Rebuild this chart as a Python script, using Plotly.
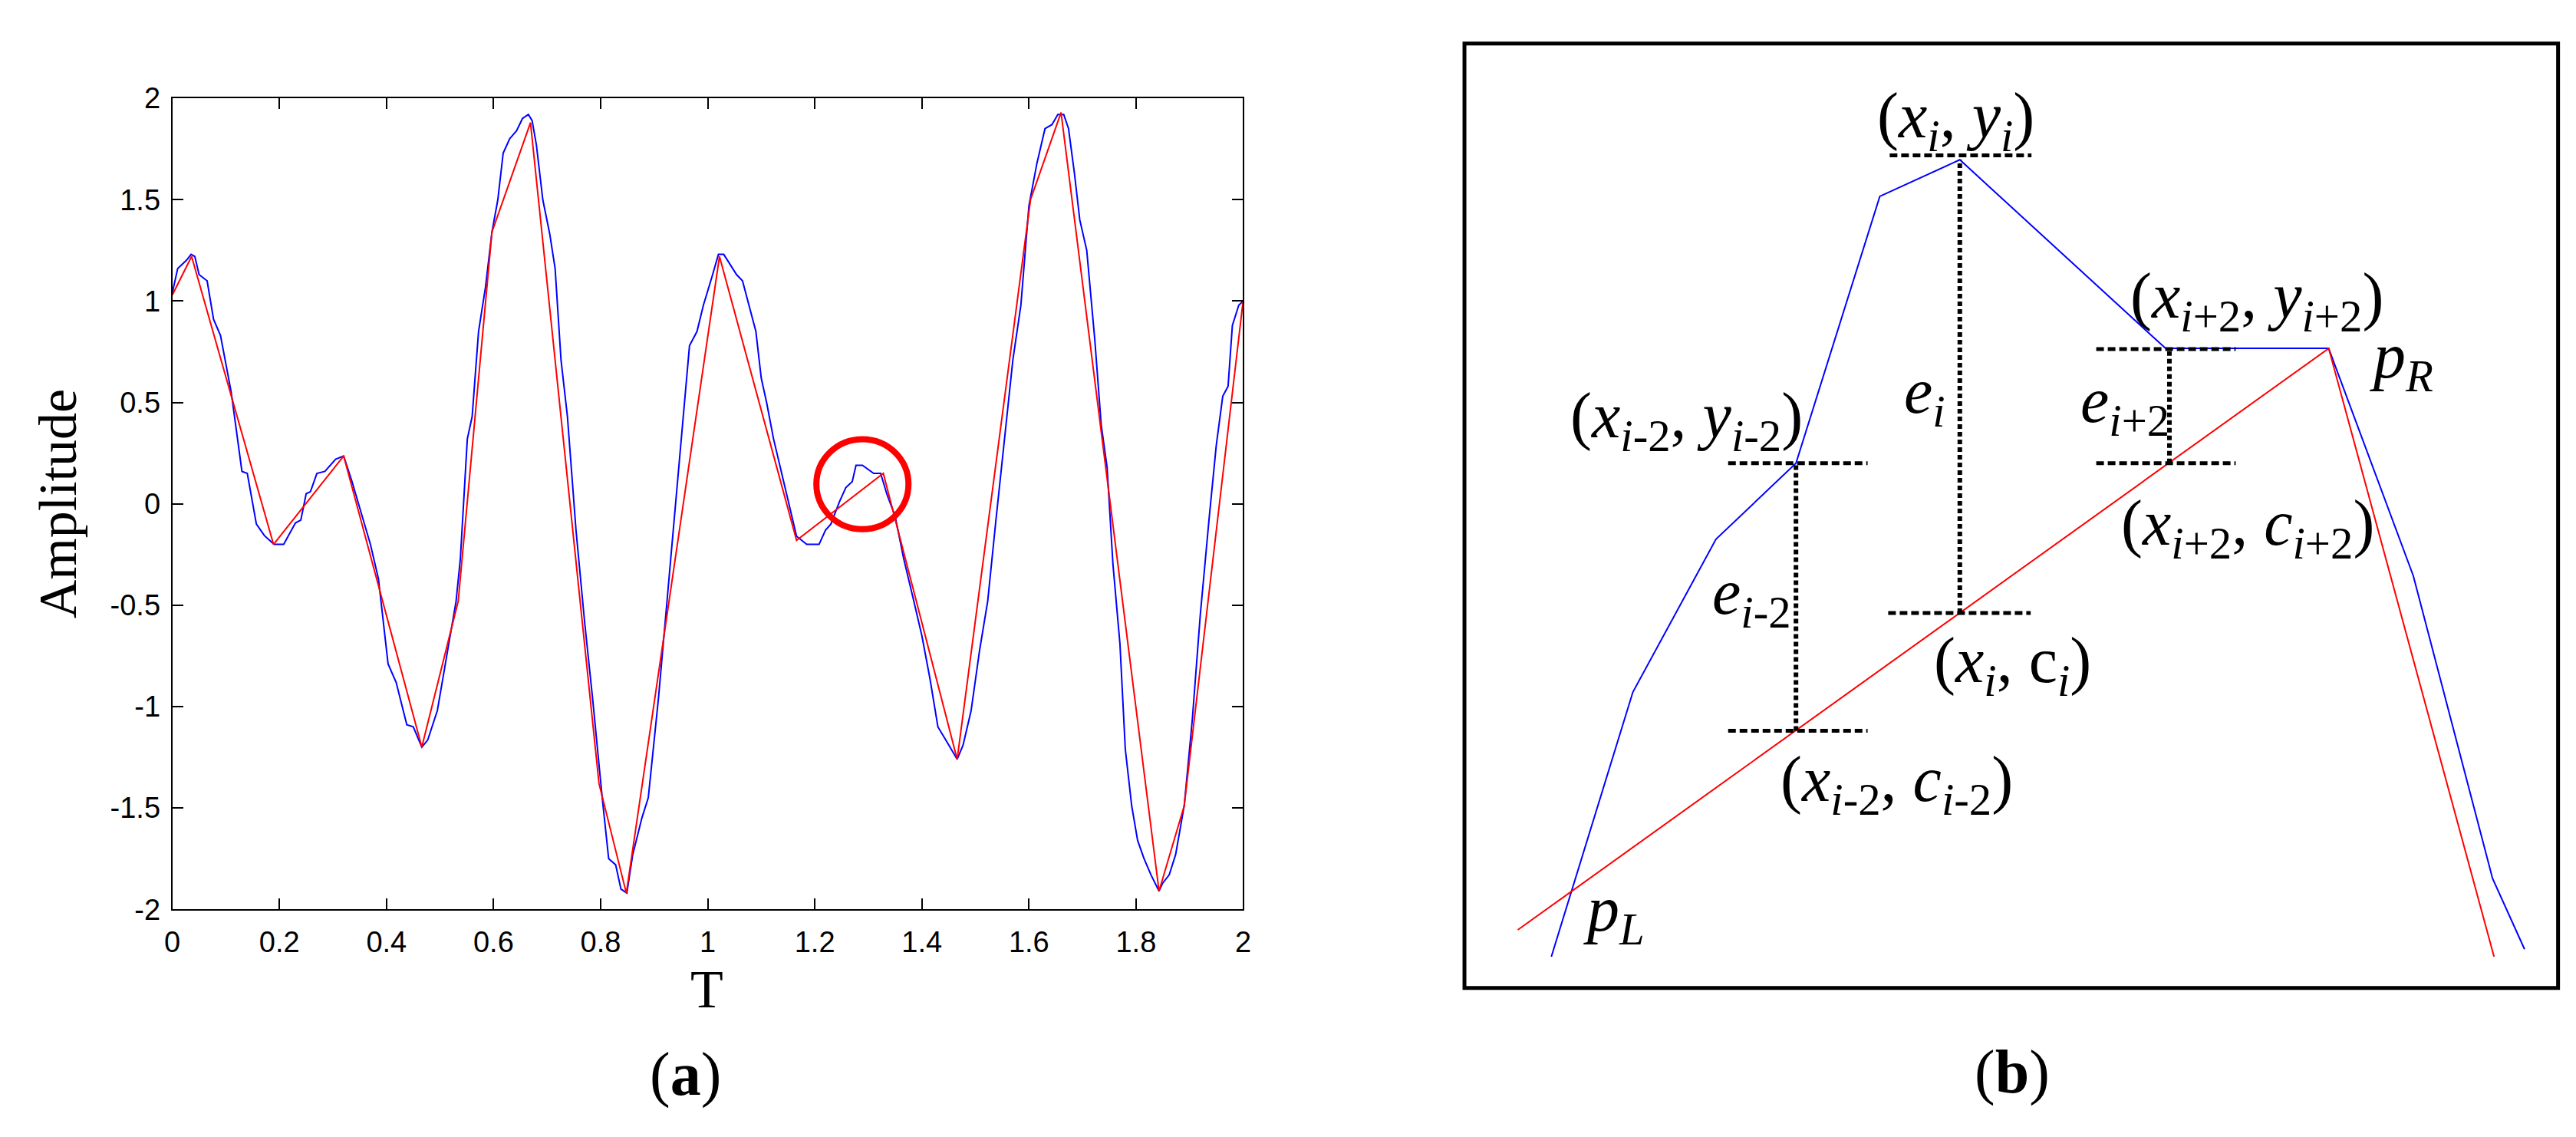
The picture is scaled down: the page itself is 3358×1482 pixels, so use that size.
import plotly.graph_objects as go

W, H = 3358, 1482

# ---- panel (a): sampled signal (blue) and its piecewise-linear fit (red)
blue_t = [0, 0.01, 0.026, 0.035, 0.042, 0.05, 0.065, 0.077, 0.09, 0.11, 0.13, 0.14, 0.157, 0.172, 0.19,
          0.208, 0.23, 0.24, 0.25, 0.258, 0.27, 0.285, 0.305, 0.32, 0.335, 0.35, 0.37, 0.385, 0.403, 0.418,
          0.438, 0.45, 0.466, 0.477, 0.495, 0.508, 0.53, 0.538, 0.551, 0.56, 0.572, 0.585, 0.597, 0.608,
          0.618, 0.63, 0.643, 0.654, 0.665, 0.672, 0.68, 0.692, 0.705, 0.715, 0.726, 0.738, 0.754, 0.77,
          0.785, 0.803, 0.815, 0.828, 0.838, 0.849, 0.86, 0.877, 0.889, 0.908, 0.923, 0.938, 0.954, 0.966,
          0.98, 0.992, 1.008, 1.02, 1.03, 1.04, 1.054, 1.065, 1.077, 1.09, 1.1, 1.11, 1.123, 1.138, 1.154,
          1.166, 1.185, 1.208, 1.22, 1.23, 1.246, 1.258, 1.27, 1.277, 1.289, 1.3, 1.31, 1.323, 1.335, 1.35,
          1.366, 1.385, 1.4, 1.415, 1.43, 1.446, 1.466, 1.477, 1.492, 1.508, 1.523, 1.538, 1.554, 1.57,
          1.585, 1.6, 1.615, 1.63, 1.643, 1.654, 1.665, 1.674, 1.685, 1.695, 1.708, 1.723, 1.735, 1.746,
          1.757, 1.77, 1.78, 1.792, 1.803, 1.815, 1.828, 1.843, 1.85, 1.862, 1.874, 1.89, 1.905, 1.92,
          1.937, 1.95, 1.962, 1.972, 1.98, 1.992, 2.0]
blue_amp = [1.04, 1.16, 1.2, 1.23, 1.22, 1.13, 1.1, 0.91, 0.83, 0.55, 0.16, 0.15, -0.1, -0.157, -0.2,
            -0.2, -0.094, -0.08, 0.05, 0.06, 0.15, 0.16, 0.22, 0.236, 0.115, -0.024, -0.2, -0.37, -0.79, -0.88,
            -1.09, -1.1, -1.2, -1.165, -1.02, -0.82, -0.48, -0.27, 0.32, 0.43, 0.85, 1.07, 1.34, 1.5,
            1.73, 1.8, 1.84, 1.9, 1.92, 1.89, 1.77, 1.5, 1.33, 1.16, 0.71, 0.43, -0.13, -0.58,
            -0.96, -1.45, -1.75, -1.78, -1.9, -1.92, -1.73, -1.55, -1.45, -0.96, -0.51, -0.06, 0.39, 0.78,
            0.85, 0.98, 1.12, 1.23, 1.23, 1.19, 1.13, 1.1, 0.98, 0.85, 0.62, 0.5, 0.32, 0.15, -0.02,
            -0.16, -0.2, -0.2, -0.13, -0.1, 0.01, 0.08, 0.11, 0.19, 0.19, 0.17, 0.15, 0.15, 0.045, -0.06,
            -0.27, -0.48, -0.65, -0.86, -1.1, -1.17, -1.26, -1.19, -1.02, -0.72, -0.48, -0.09, 0.32, 0.71,
            0.98, 1.47, 1.68, 1.85, 1.87, 1.92, 1.92, 1.85, 1.63, 1.4, 1.25, 0.81, 0.39, 0.18,
            -0.3, -0.69, -1.21, -1.49, -1.66, -1.75, -1.83, -1.91, -1.87, -1.83, -1.73, -1.49, -1.07, -0.55,
            -0.06, 0.29, 0.53, 0.58, 0.88, 0.98, 1.0]
assert len(blue_t) == len(blue_amp)

red_t = [0, 0.036, 0.189, 0.32, 0.466, 0.534, 0.597, 0.669, 0.797, 0.848, 1.022, 1.166, 1.328, 1.466,
         1.603, 1.66, 1.843, 1.89, 2.0]
red_amp = [1.03, 1.22, -0.2, 0.236, -1.2, -0.48, 1.34, 1.88, -1.38, -1.92, 1.22, -0.18, 0.15, -1.26,
           1.5, 1.93, -1.91, -1.49, 1.0]

x_ticks = [0, 0.2, 0.4, 0.6, 0.8, 1, 1.2, 1.4, 1.6, 1.8, 2]
x_ticktext = ["0", "0.2", "0.4", "0.6", "0.8", "1", "1.2", "1.4", "1.6", "1.8", "2"]
y_ticks = [-2, -1.5, -1, -0.5, 0, 0.5, 1, 1.5, 2]
y_ticktext = ["-2", "-1.5", "-1", "-0.5", "0", "0.5", "1", "1.5", "2"]

# highlighted spot on the signal
circle_t, circle_amp = 1.289, 0.097
circle_rt, circle_ra = 0.086, 0.222

# ---- panel (b): zoomed sketch, units = pixels inside the box, y upward
sig_x = [114, 221, 330, 435, 545, 650, 920, 1134, 1245, 1349, 1391]
sig_y = [42, 397, 602, 704, 1062, 1111, 858, 858, 553, 147, 52]
fit_x = [70, 1134, 1351]
fit_y = [78, 858, 42]

# dashed level markers and dotted error bars
hline_y = [1117, 857, 704, 704, 503, 345]
hline_x0 = [558, 829, 346, 829, 556, 346]
hline_x1 = [744, 1012, 529, 1012, 743, 529]
vline_x = [435, 650, 925]
vline_y0 = [345, 503, 704]
vline_y1 = [704, 1111, 857]

label_text = [
    "(<i>x</i><sub><i>i</i></sub>, <i>y</i><sub><i>i</i></sub>)",
    "(<i>x</i><sub><i>i</i>+2</sub>, <i>y</i><sub><i>i</i>+2</sub>)",
    "<i>p</i><sub><i>R</i></sub>",
    "<i>e</i><sub><i>i</i></sub>",
    "<i>e</i><sub><i>i</i>+2</sub>",
    "(<i>x</i><sub><i>i</i>-2</sub>, <i>y</i><sub><i>i</i>-2</sub>)",
    "(<i>x</i><sub><i>i</i>+2</sub>, <i>c</i><sub><i>i</i>+2</sub>)",
    "<i>e</i><sub><i>i</i>-2</sub>",
    "(<i>x</i><sub><i>i</i></sub>, c<sub><i>i</i></sub>)",
    "(<i>x</i><sub><i>i</i>-2</sub>, <i>c</i><sub><i>i</i>-2</sub>)",
    "<i>p</i><sub><i>L</i></sub>",
]
label_x = [645, 1040, 1230, 604, 867, 291, 1028, 377, 719, 567, 196]
label_y = [1164, 922, 842, 794, 782, 761, 617, 525, 433, 274, 100]

SERIF = "Liberation Serif"
SANS = "Liberation Sans"

# pixel layout of the two panels
ax_l, ax_r, ax_t, ax_b = 207, 1612, 102, 1190
bx_l, bx_r, bx_t, bx_b = 1902.5, 3337.5, 28.5, 1295.5


def px(x):
    return x / W


def py(y):
    return 1 - y / H


fig = go.Figure()
fig.add_trace(go.Scatter(x=blue_t, y=blue_amp, mode="lines", line=dict(color="#0000ff", width=2),
                         xaxis="x", yaxis="y"))
fig.add_trace(go.Scatter(x=red_t, y=red_amp, mode="lines", line=dict(color="#ff0000", width=2),
                         xaxis="x", yaxis="y"))

fig.add_trace(go.Scatter(x=sig_x, y=sig_y, mode="lines", line=dict(color="#0000ff", width=2),
                         xaxis="x2", yaxis="y2"))
fig.add_trace(go.Scatter(x=fit_x, y=fit_y, mode="lines", line=dict(color="#ff0000", width=2),
                         xaxis="x2", yaxis="y2"))
for y, x0, x1 in zip(hline_y, hline_x0, hline_x1):
    fig.add_trace(go.Scatter(x=[x0, x1], y=[y, y], mode="lines",
                             line=dict(color="black", width=5, dash="10px,5px"), xaxis="x2", yaxis="y2"))
for x, y0, y1 in zip(vline_x, vline_y0, vline_y1):
    fig.add_trace(go.Scatter(x=[x, x], y=[y0, y1], mode="lines",
                             line=dict(color="black", width=6, dash="6px,4px"), xaxis="x2", yaxis="y2"))

annotations = []
for t, x, y in zip(label_text, label_x, label_y):
    annotations.append(dict(text=t, x=x, y=y, xref="x2", yref="y2", showarrow=False,
                            xanchor="center", yanchor="middle",
                            font=dict(family=SERIF, size=84, color="black")))

annotations += [
    dict(text="Amplitude", x=px(57), y=py(646), xref="paper", yref="paper", showarrow=False,
         textangle=-90, xanchor="center", yanchor="middle", font=dict(family=SERIF, size=70, color="black")),
    dict(text="T", x=px(908), y=py(1297), xref="paper", yref="paper", showarrow=False,
         xanchor="center", yanchor="middle", font=dict(family=SERIF, size=70, color="black")),
    dict(text="(<b>a</b>)", x=px(880), y=py(1412), xref="paper", yref="paper", showarrow=False,
         xanchor="center", yanchor="middle", font=dict(family=SERIF, size=80, color="black")),
    dict(text="(<b>b</b>)", x=px(2621), y=py(1408), xref="paper", yref="paper", showarrow=False,
         xanchor="center", yanchor="middle", font=dict(family=SERIF, size=80, color="black")),
]

shapes = [
    dict(type="circle", xref="x", yref="y",
         x0=circle_t - circle_rt, x1=circle_t + circle_rt,
         y0=circle_amp - circle_ra, y1=circle_amp + circle_ra,
         line=dict(color="#ff0000", width=8)),
    dict(type="rect", xref="paper", yref="paper",
         x0=px(bx_l), x1=px(bx_r), y0=py(bx_b), y1=py(bx_t),
         line=dict(color="black", width=5)),
]

axis_common = dict(showgrid=False, zeroline=False, showline=True, linecolor="black", linewidth=2,
                   mirror="ticks", ticks="inside", ticklen=14, tickwidth=1.5, tickcolor="black",
                   tickfont=dict(family=SANS, size=38, color="black"))

fig.update_layout(
    width=W, height=H, margin=dict(l=0, r=0, t=0, b=0),
    paper_bgcolor="white", plot_bgcolor="white", showlegend=False,
    xaxis=dict(domain=[px(ax_l), px(ax_r)], range=[0, 2], tickvals=x_ticks, ticktext=x_ticktext,
               anchor="y", ticklabelstandoff=8, **axis_common),
    yaxis=dict(domain=[py(ax_b), py(ax_t)], range=[-2, 2], tickvals=y_ticks, ticktext=y_ticktext,
               anchor="x", ticklabelstandoff=6, **axis_common),
    xaxis2=dict(domain=[px(bx_l), px(bx_r)], range=[0, bx_r - bx_l], visible=False, anchor="y2"),
    yaxis2=dict(domain=[py(bx_b), py(bx_t)], range=[0, bx_b - bx_t], visible=False, anchor="x2"),
    annotations=annotations, shapes=shapes,
)

fig.write_html("out.html")
